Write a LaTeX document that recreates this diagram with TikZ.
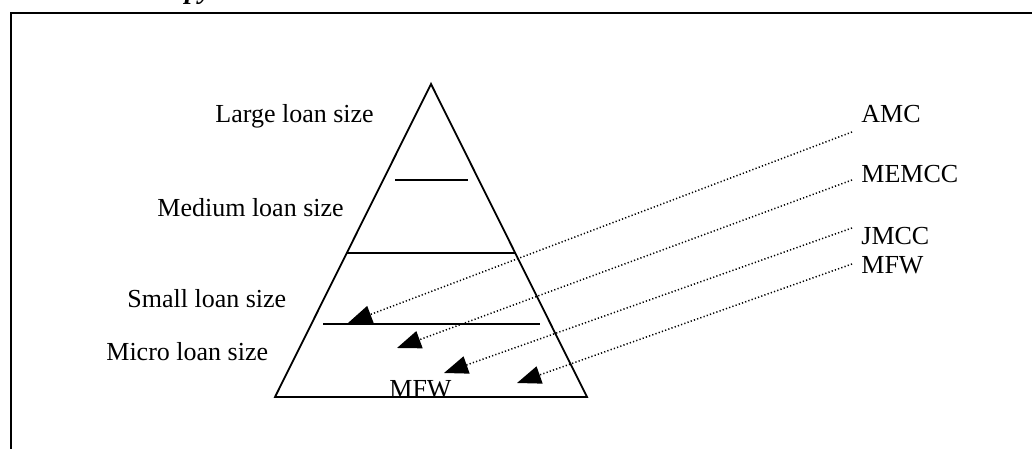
\documentclass[tikz,border=0pt]{standalone}
\usepackage{fontspec}
\setmainfont{Liberation Serif}
\usepackage{xcolor}
\definecolor{cInk}{HTML}{000000}
\usepackage{tikz}
\usetikzlibrary{arrows.meta,calc}
\tikzset{
  frame-line/.style={draw=cInk,line width=1pt},
  pyramid-line/.style={draw=cInk,line width=0.9pt,line join=miter},
  tier-line/.style={draw=cInk,line width=0.9pt},
  tier-label/.style={anchor=base west,inner sep=0pt,text=cInk,
    font=\fontsize{13}{15}\selectfont},
  bank-label/.style={anchor=base west,inner sep=0pt,text=cInk,
    font=\fontsize{13}{15}\selectfont},
  title-text/.style={anchor=base west,inner sep=0pt,text=cInk,
    font=\fontsize{14}{16}\selectfont\bfseries\itshape},
  arrow-dotted/.style={-{Triangle[length=12pt,width=9pt]},draw=cInk,
    line width=0.75pt,dash pattern=on 0.6pt off 1.1pt},
}

\begin{document}
\begin{tikzpicture}[x=0.5pt,y=-0.5pt]
  \useasboundingbox (0,0) rectangle (1032,449);
  % caption cut off at the top edge
  \node[title-text] (title) at (152,-1) {Copy};
  % frame (open at right and bottom)
  \draw[frame-line] (11,449) -- (11,13) -- (1032,13);
  % pyramid
  \coordinate (apex) at (431,84);
  \coordinate (baseL) at (275,397);
  \coordinate (baseR) at (587,397);
  \draw[pyramid-line] (apex) -- (baseR) -- (baseL) -- cycle;
  \draw[tier-line] (395,180) -- (468,180);
  \draw[tier-line] ($(apex)!0.54!(baseL)$) -- ($(apex)!0.54!(baseR)$);
  \draw[tier-line] (323,324) -- (540,324);
  % tiers
  \node[tier-label] (large)  at (215,122) {Large loan size};
  \node[tier-label] (medium) at (157,216) {Medium loan size};
  \node[tier-label] (small)  at (127,307) {Small loan size};
  \node[tier-label] (micro)  at (106,360) {Micro loan size};
  \node[tier-label] (mfwIn)  at (389,397) {MFW};
  % lenders and where they sit
  \foreach \name/\ly/\sy/\tx/\ty in {AMC/122/132/348/323, MEMCC/182/180/397/348,
      JMCC/244/228/444/373, MFW/273/264/517/383} {
    \node[bank-label] (lab-\name) at (861,\ly) {\name};
    \coordinate (src-\name) at (852,\sy);
    \coordinate (dst-\name) at (\tx,\ty);
    \draw[arrow-dotted] (src-\name) -- (dst-\name);
  }
\end{tikzpicture}
\end{document}
